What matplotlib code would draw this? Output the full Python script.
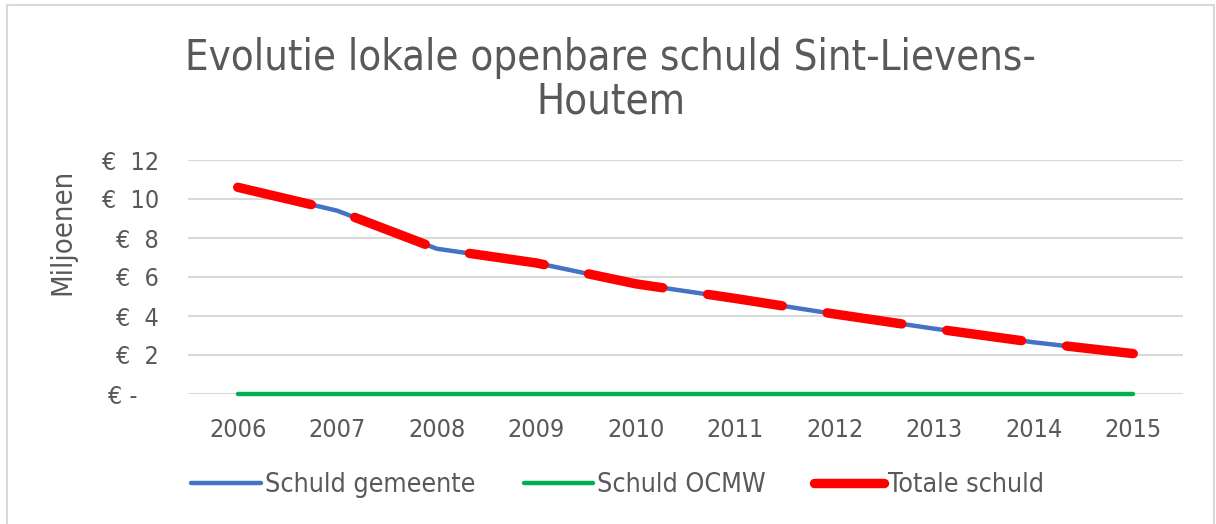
import matplotlib
matplotlib.use("Agg")
import matplotlib.pyplot as plt
from matplotlib.patches import Rectangle

# data (miljoenen euro)
years = ["2006", "2007", "2008", "2009", "2010", "2011", "2012", "2013", "2014", "2015"]
schuld_gemeente = [10.6, 9.4, 7.45, 6.72, 5.65, 4.9, 4.1, 3.35, 2.65, 2.07]
schuld_ocmw = [0, 0, 0, 0, 0, 0, 0, 0, 0, 0]
totale_schuld = [10.6, 9.4, 7.45, 6.72, 5.65, 4.9, 4.1, 3.35, 2.65, 2.07]
y_ticks = [0, 2, 4, 6, 8, 10, 12]
y_labels = ["€ -   ", "€  2", "€  4", "€  6", "€  8", "€  10", "€  12"]

GRAY = "#595959"
GRID = "#D9D9D9"

plt.rcParams["font.family"] = ["DejaVu Sans"]
plt.rcParams["font.stretch"] = "condensed"

fig = plt.figure(figsize=(12.16, 5.24), dpi=100)
fig.patches.append(Rectangle((7 / 1216, -0.02), 1207 / 1216, 1.02 - 5 / 524,
                             transform=fig.transFigure, fill=False,
                             edgecolor=GRID, lw=1.5))

ax = fig.add_axes([188 / 1216, 1 - 394 / 524, 995 / 1216, 234 / 524])
x = list(range(len(years)))

ax.plot(x, schuld_gemeente, color="#4472C4", lw=3.2, solid_capstyle="round",
        label="Schuld gemeente", zorder=3)
ax.plot(x, schuld_ocmw, color="#00B050", lw=3.2, solid_capstyle="round",
        label="Schuld OCMW", zorder=3, clip_on=False)
ax.plot(x, totale_schuld, color="#FF0000", lw=6.8, dashes=(8.0, 4.8),
        dash_capstyle="round", solid_capstyle="round",
        label="Totale schuld", zorder=4)

ax.set_xlim(-0.5, len(years) - 0.5)
ax.set_ylim(0, 12)
ax.set_yticks(y_ticks)
ax.set_yticklabels(y_labels)
ax.set_xticks(x)
ax.set_xticklabels(years)
ax.tick_params(axis="both", length=0, labelsize=18, labelcolor=GRAY)
ax.tick_params(axis="y", pad=21)
ax.tick_params(axis="x", pad=17.5)
ax.grid(axis="y", color=GRID, lw=1.5)
ax.set_axisbelow(True)
for s in ax.spines.values():
    s.set_visible(False)

fig.text(62 / 1216, 1 - 232 / 524, "Miljoenen", rotation=90, ha="center",
         va="center", fontsize=21, color=GRAY)
fig.text(0.502, 1 - 80 / 524, "Evolutie lokale openbare schuld Sint-Lievens-\nHoutem",
         ha="center", va="center", fontsize=30, color=GRAY, linespacing=1.06)

leg = fig.legend(loc="center", bbox_to_anchor=(0.508, 1 - 485 / 524), ncol=3,
                 frameon=False, fontsize=19.3, handlelength=2.6, handletextpad=0.15,
                 columnspacing=1.8, labelcolor=GRAY)

fig.savefig("out.png", dpi=100)
